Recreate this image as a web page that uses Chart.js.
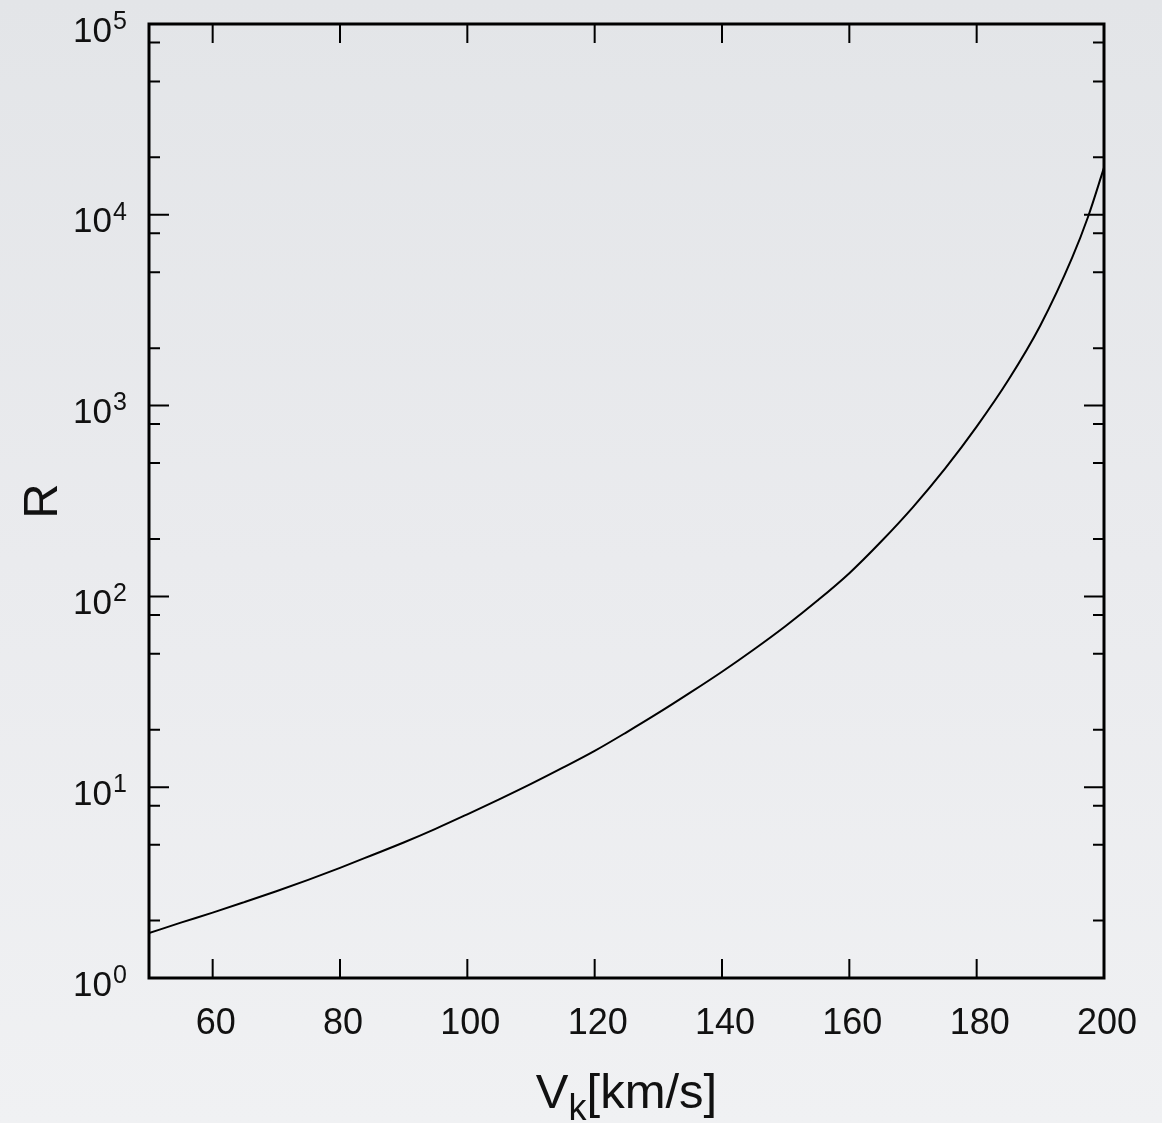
<!DOCTYPE html>
<html>
<head>
<meta charset="utf-8">
<script src="https://cdn.jsdelivr.net/npm/chart.js@4/dist/chart.umd.min.js"></script>
<style>
  html, body { margin: 0; padding: 0; }
  body {
    width: 1162px; height: 1123px; overflow: hidden;
    background: linear-gradient(to bottom, #e3e5e8 0%, #eaebee 50%, #f0f1f3 100%);
  }
  #wrap { position: relative; width: 1162px; height: 1123px; }
</style>
</head>
<body>
<div id="wrap"><canvas id="chart"></canvas></div>
<script>
// curve: V_k [km/s] -> R
const vk = [50, 55, 60, 65, 70, 75, 80, 85, 90, 95, 100, 105, 110, 115, 120, 125, 130, 135, 140, 145,
            150, 155, 160, 165, 170, 175, 180, 185, 190, 195, 197.5, 200];
const rVals = [1.72, 1.95, 2.2, 2.5, 2.85, 3.27, 3.78, 4.4, 5.13, 6.05, 7.21, 8.63, 10.4, 12.65, 15.5, 19.4, 24.5, 31.3, 40.3, 52.7,
               70, 95.1, 132.4, 194, 294, 466, 776, 1365, 2630, 5960, 9770, 17660];

const xTicks = [60, 80, 100, 120, 140, 160, 180, 200];
const yDecades = [0, 1, 2, 3, 4, 5];
const yMinorFactors = [2, 5, 8];

const FONT = "'Liberation Sans', Arial, Helvetica, sans-serif";

const framePlugin = {
    id: "frame",
    afterDraw(chart) {
        const ctx = chart.ctx;
        const a = chart.chartArea;
        const xs = chart.scales.x;
        const ys = chart.scales.y;
        ctx.save();
        ctx.strokeStyle = "#000";
        ctx.fillStyle = "#111";

        // x ticks, bottom and top, pointing in
        ctx.lineWidth = 2;
        xTicks.forEach(v => {
            const px = xs.getPixelForValue(v);
            ctx.beginPath();
            ctx.moveTo(px, a.bottom); ctx.lineTo(px, a.bottom - 19);
            ctx.moveTo(px, a.top); ctx.lineTo(px, a.top + 19);
            ctx.stroke();
        });

        // y ticks, left and right
        yDecades.forEach(d => {
            const py = ys.getPixelForValue(Math.pow(10, d));
            ctx.beginPath();
            ctx.moveTo(a.left, py); ctx.lineTo(a.left + 20, py);
            ctx.moveTo(a.right, py); ctx.lineTo(a.right - 20, py);
            ctx.stroke();
            if (d < 5) {
                yMinorFactors.forEach(f => {
                    const pm = ys.getPixelForValue(f * Math.pow(10, d));
                    ctx.beginPath();
                    ctx.moveTo(a.left, pm); ctx.lineTo(a.left + 11, pm);
                    ctx.moveTo(a.right, pm); ctx.lineTo(a.right - 11, pm);
                    ctx.stroke();
                });
            }
        });

        // frame
        ctx.lineWidth = 3;
        ctx.strokeRect(a.left, a.top, a.right - a.left, a.bottom - a.top);

        // x tick labels
        ctx.font = "36px " + FONT;
        ctx.textAlign = "center";
        ctx.textBaseline = "middle";
        xTicks.forEach(v => {
            ctx.fillText(String(v), xs.getPixelForValue(v) + 3, a.bottom + 46);
        });

        // y tick labels 10^n
        yDecades.forEach(d => {
            const py = ys.getPixelForValue(Math.pow(10, d));
            ctx.font = "35px " + FONT;
            ctx.textAlign = "right";
            ctx.fillText("10", 112, py + 8);
            ctx.font = "25px " + FONT;
            ctx.textAlign = "left";
            ctx.fillText(String(d), 113, py - 2);
        });

        // x axis title V_k[km/s]
        ctx.textBaseline = "alphabetic";
        ctx.textAlign = "left";
        ctx.font = "49px " + FONT;
        const wV = ctx.measureText("V").width;
        const wRest = ctx.measureText("[km/s]").width;
        ctx.font = "36px " + FONT;
        const wK = ctx.measureText("k").width;
        const cx = (a.left + a.right) / 2;
        let x0 = cx - (wV + wK + wRest) / 2;
        const base = 1108;
        ctx.font = "49px " + FONT;
        ctx.fillText("V", x0, base);
        ctx.font = "36px " + FONT;
        ctx.fillText("k", x0 + wV, base + 12);
        ctx.font = "49px " + FONT;
        ctx.fillText("[km/s]", x0 + wV + wK, base);

        // y axis title R
        ctx.save();
        ctx.translate(43, (a.top + a.bottom) / 2);
        ctx.rotate(-Math.PI / 2);
        ctx.textAlign = "center";
        ctx.textBaseline = "middle";
        ctx.font = "49px " + FONT;
        ctx.fillText("R", 0, 0);
        ctx.restore();

        ctx.restore();
    }
};

const points = vk.map((v, i) => ({ x: v, y: rVals[i] }));

new Chart(document.getElementById("chart"), {
    type: "line",
    data: {
        datasets: [{
            data: points,
            borderColor: "#000",
            borderWidth: 2,
            pointRadius: 0,
            fill: false,
            cubicInterpolationMode: "monotone"
        }]
    },
    options: {
        responsive: true,
        maintainAspectRatio: false,
        animation: false,
        layout: { padding: { left: 149, right: 58, top: 24, bottom: 145 } },
        plugins: { legend: { display: false }, tooltip: { enabled: false } },
        scales: {
            x: { type: "linear", min: 50, max: 200, display: false },
            y: { type: "logarithmic", min: 1, max: 100000, display: false }
        }
    },
    plugins: [framePlugin]
});
</script>
</body>
</html>
